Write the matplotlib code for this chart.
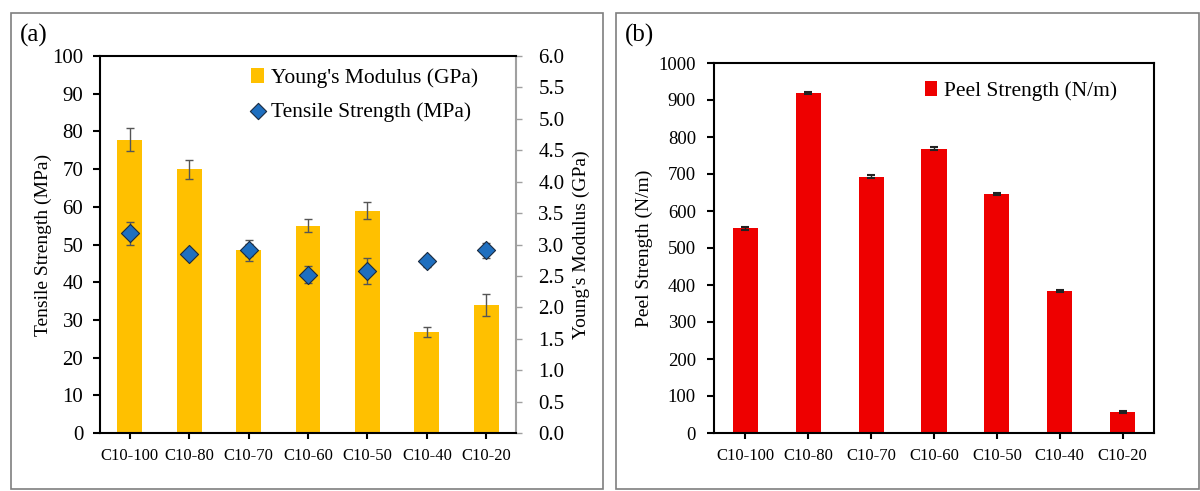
import matplotlib
matplotlib.use("Agg")
import matplotlib.pyplot as plt
from matplotlib.patches import Rectangle
import numpy as np

plt.rcParams['font.family'] = ['Liberation Serif', 'DejaVu Serif']

samples = ["C10-100", "C10-80", "C10-70", "C10-60", "C10-50", "C10-40", "C10-20"]

# (a) Young's modulus (GPa, right axis) and tensile strength (MPa, left axis)
modulus = [4.67, 4.20, 2.91, 3.30, 3.54, 1.60, 2.04]
modulus_err = [0.18, 0.15, 0.10, 0.10, 0.13, 0.08, 0.18]
tensile = [53.0, 47.5, 48.5, 42.0, 43.0, 45.5, 48.5]
tensile_err = [3.0, 0.5, 2.8, 2.2, 3.5, 1.5, 2.0]

# (b) peel strength (N/m)
peel = [553, 918, 693, 768, 646, 383, 57]
peel_err = [4, 3, 3, 4, 3, 3, 3]

yellow = "#FFC000"
red = "#EE0000"
blue = "#1F6FBF"
errc = "#555555"

fig = plt.figure(figsize=(12, 4.91), dpi=100)

# panel frames
W, H = 1200, 491
for x0, x1 in [(11, 603), (616, 1199)]:
    fig.patches.append(Rectangle((x0 / W, 1 - 489 / H), (x1 - x0) / W, (489 - 13) / H,
                                 transform=fig.transFigure, fill=False,
                                 edgecolor="#7f7f7f", lw=1.2))

x = np.arange(len(samples))

# ---- panel (a)
ax = fig.add_axes([100 / W, 1 - 433 / H, 416 / W, 377 / H])
ax2 = ax.twinx()
bars = ax2.bar(x, modulus, width=0.42, color=yellow, yerr=modulus_err,
               error_kw=dict(ecolor=errc, elinewidth=1, capsize=3, capthick=1),
               label="Young's Modulus (GPa)")
ax2.set_ylim(0, 6)
ax2.set_yticks(np.arange(0, 6.01, 0.5))
ax2.set_yticklabels([f"{v:.1f}" for v in np.arange(0, 6.01, 0.5)])
ax2.set_ylabel("Young's Modulus (GPa)", fontsize=14, labelpad=6)
ax2.tick_params(axis='y', labelsize=15, color="#a0a0a0", length=4, width=1, pad=12)
ax2.spines['right'].set_color("#a0a0a0")
ax2.spines['right'].set_linewidth(1.5)

ax.set_zorder(ax2.get_zorder() + 1)
ax.patch.set_visible(False)
ax.errorbar(x, tensile, yerr=tensile_err, fmt='none', ecolor=errc,
            elinewidth=1, capsize=3, capthick=1, zorder=3)
pts = ax.scatter(x, tensile, marker='D', s=85, color=blue, edgecolor="#1a2a40",
                 linewidth=0.8, zorder=4, label="Tensile Strength (MPa)")
ax.set_ylim(0, 100)
ax.set_yticks(np.arange(0, 101, 10))
ax.set_xlim(-0.5, len(samples) - 0.5)
ax.set_xticks(x)
ax.set_xticklabels(samples)
ax.set_ylabel("Tensile Strength (MPa)", fontsize=14, labelpad=0)
ax.tick_params(axis='y', labelsize=15, length=5, width=1.5, pad=7)
ax.tick_params(axis='x', labelsize=12, length=4, width=1.5, pad=7)
for s in ['left', 'bottom', 'top']:
    ax.spines[s].set_linewidth(1.5)
for s in ['left', 'bottom', 'top']:
    ax2.spines[s].set_visible(False)
ax.spines['right'].set_visible(False)

ax.legend([bars, pts], ["Young's Modulus (GPa)", "Tensile Strength (MPa)"],
          loc='upper right', bbox_to_anchor=(0.955, 1.02), frameon=False,
          fontsize=15.5, handlelength=0.6, handletextpad=0.3, labelspacing=0.65,
          markerscale=0.9)
fig.text(20 / W, 1 - 35 / H, "(a)", fontsize=18, va='center', ha='left')

# ---- panel (b)
bx = fig.add_axes([714 / W, 1 - 433 / H, 440 / W, 370 / H])
pb = bx.bar(x, peel, width=0.4, color=red, yerr=peel_err,
            error_kw=dict(ecolor="#222222", elinewidth=1, capsize=3, capthick=1.5),
            label="Peel Strength (N/m)")
bx.set_ylim(0, 1000)
bx.set_yticks(np.arange(0, 1001, 100))
bx.set_xlim(-0.5, len(samples) - 0.5)
bx.set_xticks(x)
bx.set_xticklabels(samples)
bx.set_ylabel("Peel Strength (N/m)", fontsize=14, labelpad=4)
bx.tick_params(axis='y', labelsize=13.5, length=5, width=1.5, pad=8)
bx.tick_params(axis='x', labelsize=12, length=4, width=1.5, pad=7)
for s in bx.spines.values():
    s.set_linewidth(1.5)
bx.legend(loc='upper right', bbox_to_anchor=(0.96, 1.005), frameon=False,
          fontsize=15.5, handlelength=0.6, handletextpad=0.3)
fig.text(625 / W, 1 - 35 / H, "(b)", fontsize=18, va='center', ha='left')

fig.savefig("out.png", dpi=100)
